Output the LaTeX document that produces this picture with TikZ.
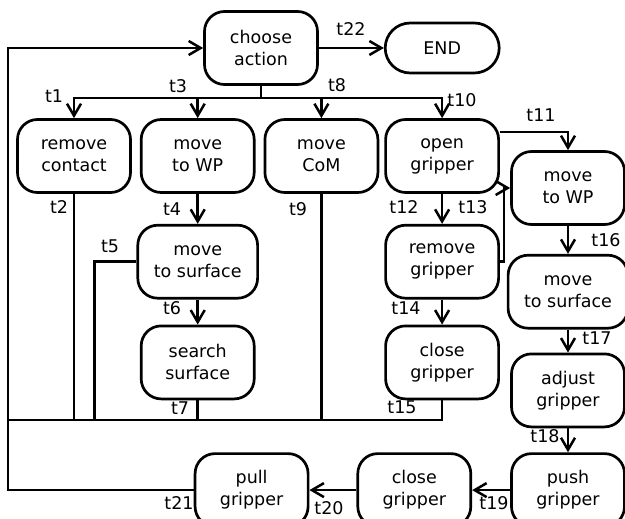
\documentclass[tikz,border=0pt]{standalone}
\usepackage{fontspec}
\setmainfont{DejaVu Sans}
\usetikzlibrary{arrows.meta,positioning,calc}

\begin{document}
\begin{tikzpicture}[
    x=1bp, y=-1bp,
    node distance=25bp and 8bp,
    state/.style={rectangle, draw, rounded corners=20bp, line width=2.7bp,
                  minimum width=113bp, minimum height=73bp, inner xsep=16bp,
                  align=center, font=\fontsize{17.5bp}{22bp}\selectfont},
    final/.style={state, rounded corners=25bp, minimum width=114bp, minimum height=50bp},
    lbl/.style={inner sep=0pt, font=\fontsize{17.5bp}{22bp}\selectfont},
    line/.style={line width=2.5bp},
    arrow/.style={line, -{Straight Barb[length=12bp, width=14bp]}},
    trunk/.style={line width=3.6bp}
  ]
    \useasboundingbox (0,0) rectangle (625,519);

    \node[state] (choose) at (261,48) {choose\\action};
    \node[final, right=65bp of choose] (end) {END};
    \node[state] (remc) at (74,156) {remove\\contact};
    \node[state, right=of remc] (mwp) {move\\to WP};
    \node[state, right=of mwp] (mcom) {move\\CoM};
    \node[state, right=5bp of mcom] (open) {open\\gripper};
    \node[state, below=30bp of mwp] (msurf) {move\\to surface};
    \node[state, below=of msurf] (search) {search\\surface};
    \node[state, below=30bp of open] (remg) {remove\\gripper};
    \node[state, below=of remg] (closeg) {close\\gripper};
    \node[state] (mwpb) at (568,188) {move\\to WP};
    \node[state, below=28bp of mwpb] (msurfb) {move\\to surface};
    \node[state, below=23bp of msurfb] (adjust) {adjust\\gripper};
    \node[state, below=24bp of adjust] (push) {push\\gripper};
    \node[state, left=38bp of push] (closegb) {close\\gripper};
    \node[state, left=47bp of closegb] (pull) {pull\\gripper};

    % fork below choose action
    \coordinate[below=12bp of choose] (fork);
    \draw[line] (choose.south) -- (fork);
    \foreach \n in {remc, mwp, mcom, open}
      \draw[arrow] (fork) -| (\n.north);
    \draw[arrow] (choose.east) -- (end.west);

    \foreach \a/\b in {mwp/msurf, msurf/search, open/remg, remg/closeg,
                       mwpb/msurfb, msurfb/adjust, adjust/push,
                       push/closegb, closegb/pull}
      \draw[arrow] (\a) -- (\b);
    \draw[arrow] ($(open.east)+(0,-24)$) -| (mwpb.north);
    \draw[arrow] (remg.east) -- ++(4,0) |- (mwpb.west);

    % back to choose action
    \coordinate (lft) at (8,420);
    \foreach \n in {remc, search, mcom, closeg}
      \draw[line] (\n.south) |- (lft);
    \draw[line] (msurf.west) -- ++(-42,0) |- (lft);
    \draw[line] (pull.west) -| (lft);
    \draw[trunk, arrow] (lft) -- (choose.west -| lft) -- (choose.west);

    \foreach \t/\x/\y in {t1/54/96, t2/59/207, t3/178/86, t4/172/209,
                          t5/110/246, t6/172/308, t7/180/408, t8/337/85,
                          t9/298/209, t10/462/100, t11/541/115, t12/404/207,
                          t13/473/207, t14/406/308, t15/402/407, t16/606/240,
                          t17/597/338, t18/545/436, t19/494/503, t20/329/508,
                          t21/179/503, t22/351/29}
      \node[lbl] (\t) at (\x,\y) {\t};
\end{tikzpicture}
\end{document}
